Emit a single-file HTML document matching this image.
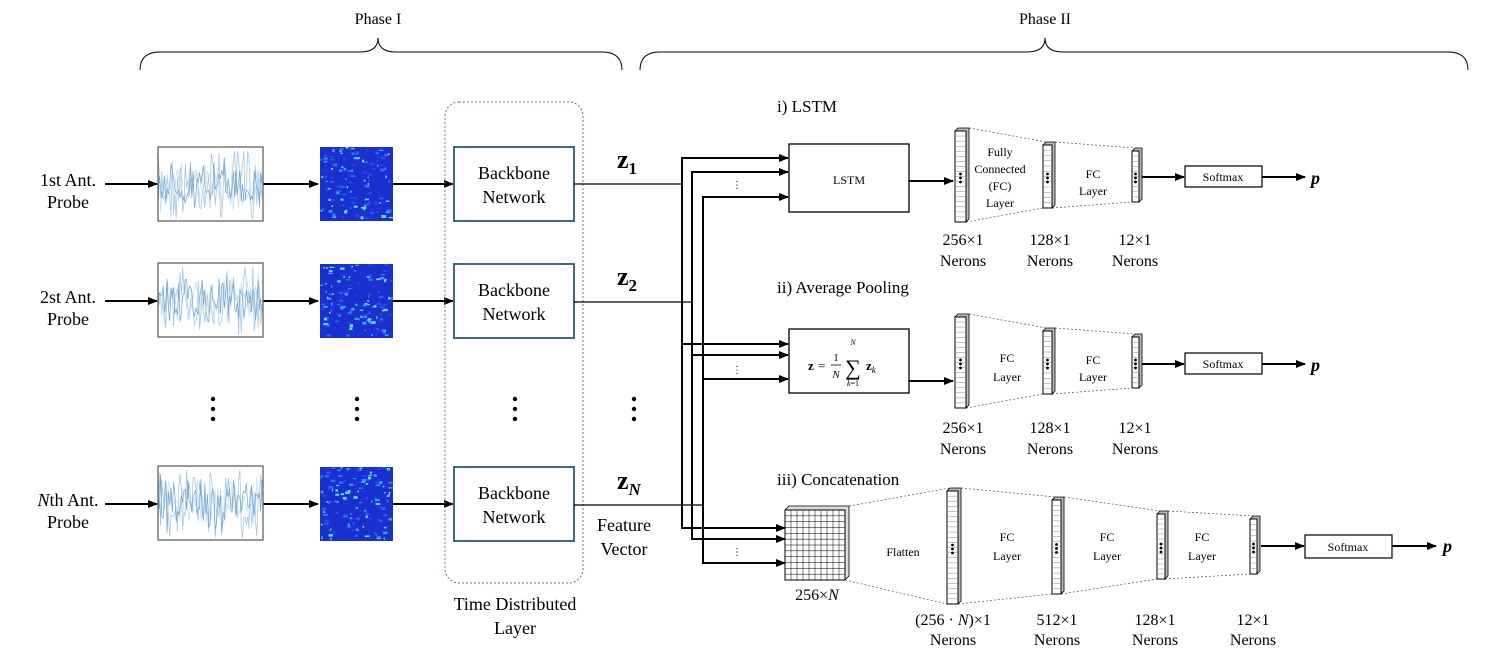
<!DOCTYPE html>
<html><head><meta charset="utf-8">
<style>
html,body{margin:0;padding:0;background:#fff;}
svg{display:block;}
text{font-family:"Liberation Serif",serif;fill:#000;}
.s{font-size:12px;}
.m{font-size:16px;}
.b{font-size:18px;}
</style></head><body>
<svg id="g" width="1490" height="667" viewBox="0 0 1490 667" xmlns="http://www.w3.org/2000/svg">
<defs>
<marker id="a" markerWidth="10" markerHeight="8" refX="9" refY="4" orient="auto" markerUnits="userSpaceOnUse">
<path d="M0,0 L10,4 L0,8 z" fill="#000"/></marker>
</defs>
<!-- braces -->
<path d="M140,70 Q140,52 160,52 L360,52 Q378,52 378,38 Q378,52 396,52 L602,52 Q622,52 622,70" fill="none" stroke="#000" stroke-width="1"/>
<path d="M640,70 Q640,52 660,52 L1027,52 Q1045,52 1045,38 Q1045,52 1063,52 L1448,52 Q1468,52 1468,70" fill="none" stroke="#000" stroke-width="1"/>
<text x="378" y="24" class="m" text-anchor="middle">Phase I</text>
<text x="1045" y="24" class="m" text-anchor="middle">Phase II</text>

<!-- probe labels -->
<text x="68" y="186" class="b" text-anchor="middle">1st Ant.</text>
<text x="68" y="208" class="b" text-anchor="middle">Probe</text>
<text x="68" y="303" class="b" text-anchor="middle">2st Ant.</text>
<text x="68" y="325" class="b" text-anchor="middle">Probe</text>
<text x="68" y="506" class="b" text-anchor="middle"><tspan font-style="italic">N</tspan>th Ant.</text>
<text x="68" y="528" class="b" text-anchor="middle">Probe</text>

<g stroke="#000" stroke-width="2" fill="none" marker-end="url(#a)">
<line x1="105" y1="184" x2="157" y2="184"/>
<line x1="105" y1="301" x2="157" y2="301"/>
<line x1="105" y1="504" x2="157" y2="504"/>
<line x1="263" y1="184" x2="318" y2="184"/>
<line x1="263" y1="301" x2="318" y2="301"/>
<line x1="263" y1="504" x2="318" y2="504"/>
<line x1="393" y1="184" x2="453" y2="184"/>
<line x1="393" y1="301" x2="453" y2="301"/>
<line x1="393" y1="504" x2="453" y2="504"/>
</g>
<g id="noise"></g>
<g id="spec"></g>
<g fill="none" stroke="#555" stroke-width="1.2">
<rect x="158" y="147" width="105" height="74"/>
<rect x="158" y="263" width="105" height="74"/>
<rect x="158" y="466" width="105" height="74"/>
</g>

<!-- time distributed -->
<rect x="445" y="102" width="138" height="481" rx="14" fill="none" stroke="#4a7c98" stroke-width="1" stroke-dasharray="2,2"/>
<g fill="#fff" stroke="#3e6b82" stroke-width="2">
<rect x="454" y="147" width="120" height="74"/>
<rect x="454" y="264" width="120" height="74"/>
<rect x="454" y="467" width="120" height="74"/>
</g>
<text x="514" y="179" class="b" text-anchor="middle">Backbone</text>
<text x="514" y="203" class="b" text-anchor="middle">Network</text>
<text x="514" y="296" class="b" text-anchor="middle">Backbone</text>
<text x="514" y="320" class="b" text-anchor="middle">Network</text>
<text x="514" y="499" class="b" text-anchor="middle">Backbone</text>
<text x="514" y="523" class="b" text-anchor="middle">Network</text>
<text x="515" y="610" class="b" text-anchor="middle">Time Distributed</text>
<text x="515" y="634" class="b" text-anchor="middle">Layer</text>

<!-- vertical dots -->
<g fill="#000">
<circle cx="213" cy="399" r="2.2"/><circle cx="213" cy="409" r="2.2"/><circle cx="213" cy="419" r="2.2"/>
<circle cx="357" cy="399" r="2.2"/><circle cx="357" cy="409" r="2.2"/><circle cx="357" cy="419" r="2.2"/>
<circle cx="515" cy="399" r="2.2"/><circle cx="515" cy="409" r="2.2"/><circle cx="515" cy="419" r="2.2"/>
<circle cx="634" cy="399" r="2.2"/><circle cx="634" cy="409" r="2.2"/><circle cx="634" cy="419" r="2.2"/>
</g>

<!-- z labels -->
<text x="617" y="168" font-size="26" font-weight="bold">z<tspan font-size="17" dy="6">1</tspan></text>
<text x="617" y="285" font-size="26" font-weight="bold">z<tspan font-size="17" dy="6">2</tspan></text>
<text x="617" y="489" font-size="26" font-weight="bold">z<tspan font-size="17" dy="6" font-style="italic">N</tspan></text>
<text x="624" y="531" class="b" text-anchor="middle">Feature</text>
<text x="624" y="555" class="b" text-anchor="middle">Vector</text>

<!-- connectors -->
<g stroke="#000" stroke-width="1.3" fill="none">
<line x1="574" y1="184" x2="682" y2="184"/>
<line x1="574" y1="302" x2="692" y2="302"/>
<line x1="574" y1="505" x2="703" y2="505"/>
</g>
<g stroke="#000" stroke-width="2" fill="none">
<polyline points="780,158 682,158 682,528 784,528"/>
<polyline points="780,172 692,172 692,539 784,539"/>
<polyline points="780,197 703,197 703,563 784,563"/>
</g>
<g stroke="#000" stroke-width="2" fill="none" marker-end="url(#a)">
<line x1="770" y1="158" x2="788" y2="158"/>
<line x1="770" y1="172" x2="788" y2="172"/>
<line x1="770" y1="197" x2="788" y2="197"/>
<line x1="682" y1="344" x2="788" y2="344"/>
<line x1="692" y1="355" x2="788" y2="355"/>
<line x1="703" y1="379" x2="788" y2="379"/>
<line x1="770" y1="528" x2="785" y2="528"/>
<line x1="770" y1="539" x2="785" y2="539"/>
<line x1="770" y1="563" x2="785" y2="563"/>
</g>
<text x="737" y="188" font-size="10" text-anchor="middle">⋮</text>
<text x="737" y="373" font-size="10" text-anchor="middle">⋮</text>
<text x="737" y="555" font-size="10" text-anchor="middle">⋮</text>

<!-- i) LSTM -->
<text x="777" y="112" font-size="17">i) LSTM</text>
<rect x="789" y="144" width="120" height="68" fill="#fff" stroke="#000" stroke-width="1.3"/>
<text x="849" y="184" class="s" text-anchor="middle">LSTM</text>
<line x1="909" y1="181" x2="953" y2="181" stroke="#000" stroke-width="2" marker-end="url(#a)"/>
<text x="1000" y="156" class="s" text-anchor="middle">Fully</text>
<text x="1000" y="173" class="s" text-anchor="middle">Connected</text>
<text x="1000" y="190" class="s" text-anchor="middle">(FC)</text>
<text x="1000" y="207" class="s" text-anchor="middle">Layer</text>
<text x="1093" y="178" class="s" text-anchor="middle">FC</text>
<text x="1093" y="195" class="s" text-anchor="middle">Layer</text>
<rect x="1185" y="166" width="77" height="21" fill="#fff" stroke="#000" stroke-width="1.2"/>
<text x="1223" y="181" class="s" text-anchor="middle">Softmax</text>
<line x1="1141" y1="177" x2="1184" y2="177" stroke="#000" stroke-width="2" marker-end="url(#a)"/>
<line x1="1262" y1="177" x2="1305" y2="177" stroke="#000" stroke-width="2" marker-end="url(#a)"/>
<text x="1311" y="184" font-size="18" font-weight="bold" font-style="italic">p</text>
<text x="963" y="245" class="m" text-anchor="middle">256×1</text>
<text x="963" y="266" class="m" text-anchor="middle">Nerons</text>
<text x="1050" y="245" class="m" text-anchor="middle">128×1</text>
<text x="1050" y="266" class="m" text-anchor="middle">Nerons</text>
<text x="1135" y="245" class="m" text-anchor="middle">12×1</text>
<text x="1135" y="266" class="m" text-anchor="middle">Nerons</text>

<!-- ii) Avg -->
<text x="777" y="293" font-size="17">ii) Average Pooling</text>
<rect x="789" y="329" width="120" height="64" fill="#fff" stroke="#000" stroke-width="1.3"/>
<text x="808" y="370" font-size="13" font-weight="bold">z</text>
<text x="818" y="370" font-size="13">=</text>
<text x="836" y="361" font-size="11" text-anchor="middle">1</text>
<line x1="831" y1="365" x2="841" y2="365" stroke="#000" stroke-width="0.8"/>
<text x="836" y="378" font-size="11" font-style="italic" text-anchor="middle">N</text>
<text x="853" y="375" font-size="22" text-anchor="middle">∑</text>
<text x="853" y="345" font-size="8" font-style="italic" text-anchor="middle">N</text>
<text x="853" y="386" font-size="8" text-anchor="middle"><tspan font-style="italic">k</tspan>=1</text>
<text x="866" y="370" font-size="13" font-weight="bold">z<tspan font-size="9" font-weight="normal" font-style="italic" dy="3">k</tspan></text>
<line x1="909" y1="381" x2="953" y2="381" stroke="#000" stroke-width="2" marker-end="url(#a)"/>
<text x="1007" y="362" class="s" text-anchor="middle">FC</text>
<text x="1007" y="381" class="s" text-anchor="middle">Layer</text>
<text x="1093" y="364" class="s" text-anchor="middle">FC</text>
<text x="1093" y="381" class="s" text-anchor="middle">Layer</text>
<rect x="1185" y="353" width="77" height="21" fill="#fff" stroke="#000" stroke-width="1.2"/>
<text x="1223" y="368" class="s" text-anchor="middle">Softmax</text>
<line x1="1141" y1="364" x2="1184" y2="364" stroke="#000" stroke-width="2" marker-end="url(#a)"/>
<line x1="1262" y1="364" x2="1305" y2="364" stroke="#000" stroke-width="2" marker-end="url(#a)"/>
<text x="1311" y="371" font-size="18" font-weight="bold" font-style="italic">p</text>
<text x="963" y="433" class="m" text-anchor="middle">256×1</text>
<text x="963" y="454" class="m" text-anchor="middle">Nerons</text>
<text x="1050" y="433" class="m" text-anchor="middle">128×1</text>
<text x="1050" y="454" class="m" text-anchor="middle">Nerons</text>
<text x="1135" y="433" class="m" text-anchor="middle">12×1</text>
<text x="1135" y="454" class="m" text-anchor="middle">Nerons</text>

<!-- iii) Concat -->
<text x="777" y="485" font-size="17">iii) Concatenation</text>
<g id="grid"></g>
<text x="817" y="600" class="m" text-anchor="middle">256×<tspan font-style="italic">N</tspan></text>
<text x="903" y="556" class="s" text-anchor="middle">Flatten</text>
<text x="1007" y="541" class="s" text-anchor="middle">FC</text>
<text x="1007" y="560" class="s" text-anchor="middle">Layer</text>
<text x="1107" y="541" class="s" text-anchor="middle">FC</text>
<text x="1107" y="560" class="s" text-anchor="middle">Layer</text>
<text x="1202" y="541" class="s" text-anchor="middle">FC</text>
<text x="1202" y="560" class="s" text-anchor="middle">Layer</text>
<rect x="1305" y="535" width="87" height="23" fill="#fff" stroke="#000" stroke-width="1.2"/>
<text x="1348" y="551" class="s" text-anchor="middle">Softmax</text>
<line x1="1261" y1="546" x2="1304" y2="546" stroke="#000" stroke-width="2" marker-end="url(#a)"/>
<line x1="1392" y1="546" x2="1436" y2="546" stroke="#000" stroke-width="2" marker-end="url(#a)"/>
<text x="1443" y="552" font-size="18" font-weight="bold" font-style="italic">p</text>
<text x="953" y="625" class="m" text-anchor="middle">(256 · <tspan font-style="italic">N</tspan>)×1</text>
<text x="953" y="645" class="m" text-anchor="middle">Nerons</text>
<text x="1057" y="625" class="m" text-anchor="middle">512×1</text>
<text x="1057" y="645" class="m" text-anchor="middle">Nerons</text>
<text x="1155" y="625" class="m" text-anchor="middle">128×1</text>
<text x="1155" y="645" class="m" text-anchor="middle">Nerons</text>
<text x="1253" y="625" class="m" text-anchor="middle">12×1</text>
<text x="1253" y="645" class="m" text-anchor="middle">Nerons</text>
<g id="cols"></g>
</svg>
<script>
var NS="http://www.w3.org/2000/svg";
function el(p,t,a){var e=document.createElementNS(NS,t);for(var k in a)e.setAttribute(k,a[k]);p.appendChild(e);return e;}
var seed=7;function r(){seed=(seed*16807)%2147483647;return seed/2147483647;}
var nz=document.getElementById('noise');
[147,263,466].forEach(function(y0){
 for(var l=0;l<3;l++){var pts=[];for(var i=0;i<=104;i+=1.3){var v=y0+37+(r()-0.5)*(l==0?60:40)*(0.5+r());pts.push((158+i).toFixed(1)+','+Math.max(y0+4,Math.min(y0+72,v)).toFixed(1));}
 el(nz,'polyline',{points:pts.join(' '),fill:'none',stroke:['#9cc3e6','#c4dcf0','#6fa3d0'][l],'stroke-width':0.7});}
});
var sp=document.getElementById('spec');
[147,264,467].forEach(function(y0){
 el(sp,'rect',{x:320,y:y0,width:73,height:74,fill:'#1a2fd0'});
 for(var i=0;i<120;i++){el(sp,'rect',{x:320+r()*70,y:y0+r()*71,width:1+r()*4,height:1+r()*2,fill:['#2f6cf0','#3aa0f5','#5fe0e0','#2448e8'][Math.floor(r()*4)]});}
 for(var i=0;i<6;i++){el(sp,'rect',{x:320+r()*70,y:y0+r()*71,width:1.5,height:1.5,fill:'#c8f060'});}
});
var gr=document.getElementById('grid');
el(gr,'path',{d:'M785,510 L789,506 L849,506 L849,576 L845,580 Z',fill:'#ddd',stroke:'#000','stroke-width':0.8});
el(gr,'rect',{x:785,y:510,width:60,height:70,fill:'#fff',stroke:'#000','stroke-width':1});
for(var i=1;i<10;i++){el(gr,'line',{x1:785+i*6,y1:510,x2:785+i*6,y2:580,stroke:'#000','stroke-width':0.5});}
for(var i=1;i<12;i++){el(gr,'line',{x1:785,y1:510+i*70/12,x2:845,y2:510+i*70/12,stroke:'#000','stroke-width':0.5});}
var cg=document.getElementById('cols');
function col(x,y1,y2,w,n){
 el(cg,'path',{d:'M'+x+','+(y1+3)+' l3,-3 l'+w+',0 l0,'+(y2-y1-3)+' l-3,3 z',fill:'#bbb',stroke:'#000','stroke-width':0.8});
 el(cg,'rect',{x:x,y:y1+3,width:w,height:y2-y1-3,fill:'#fff',stroke:'#000','stroke-width':1});
 var h=(y2-y1-3)/n;for(var i=1;i<n;i++)el(cg,'line',{x1:x,y1:y1+3+i*h,x2:x+w,y2:y1+3+i*h,stroke:'#888','stroke-width':0.5});
 var cy=(y1+y2)/2;for(var j=-1;j<=1;j++)el(cg,'circle',{cx:x+w/2,cy:cy+j*4+3,r:1.4,fill:'#000'});
}
function trap(a,b){ // dashed connectors
 el(cg,'line',{x1:a[0],y1:a[1],x2:b[0],y2:b[1],stroke:'#555','stroke-width':0.7,'stroke-dasharray':'2,2'});}
function chain(cols){
 for(var i=0;i<cols.length-1;i++){var A=cols[i],B=cols[i+1];trap([A[0]+A[3]+3,A[1]],[B[0]+3,B[1]]);trap([A[0]+A[3],A[2]],[B[0],B[2]]);}
 cols.forEach(function(c){col(c[0],c[1],c[2],c[3],c[4]);});
}
chain([[955,128,222,11,18],[1043,142,208,9,12],[1132,148,202,7,10]]);
chain([[955,314,408,11,18],[1043,328,394,9,12],[1132,334,388,7,10]]);
trap([849,506],[950,488]);trap([845,580],[947,604]);
chain([[947,488,604,11,22],[1052,497,594,9,18],[1157,511,579,8,13],[1250,516,574,7,10]]);
</script>
</body></html>
